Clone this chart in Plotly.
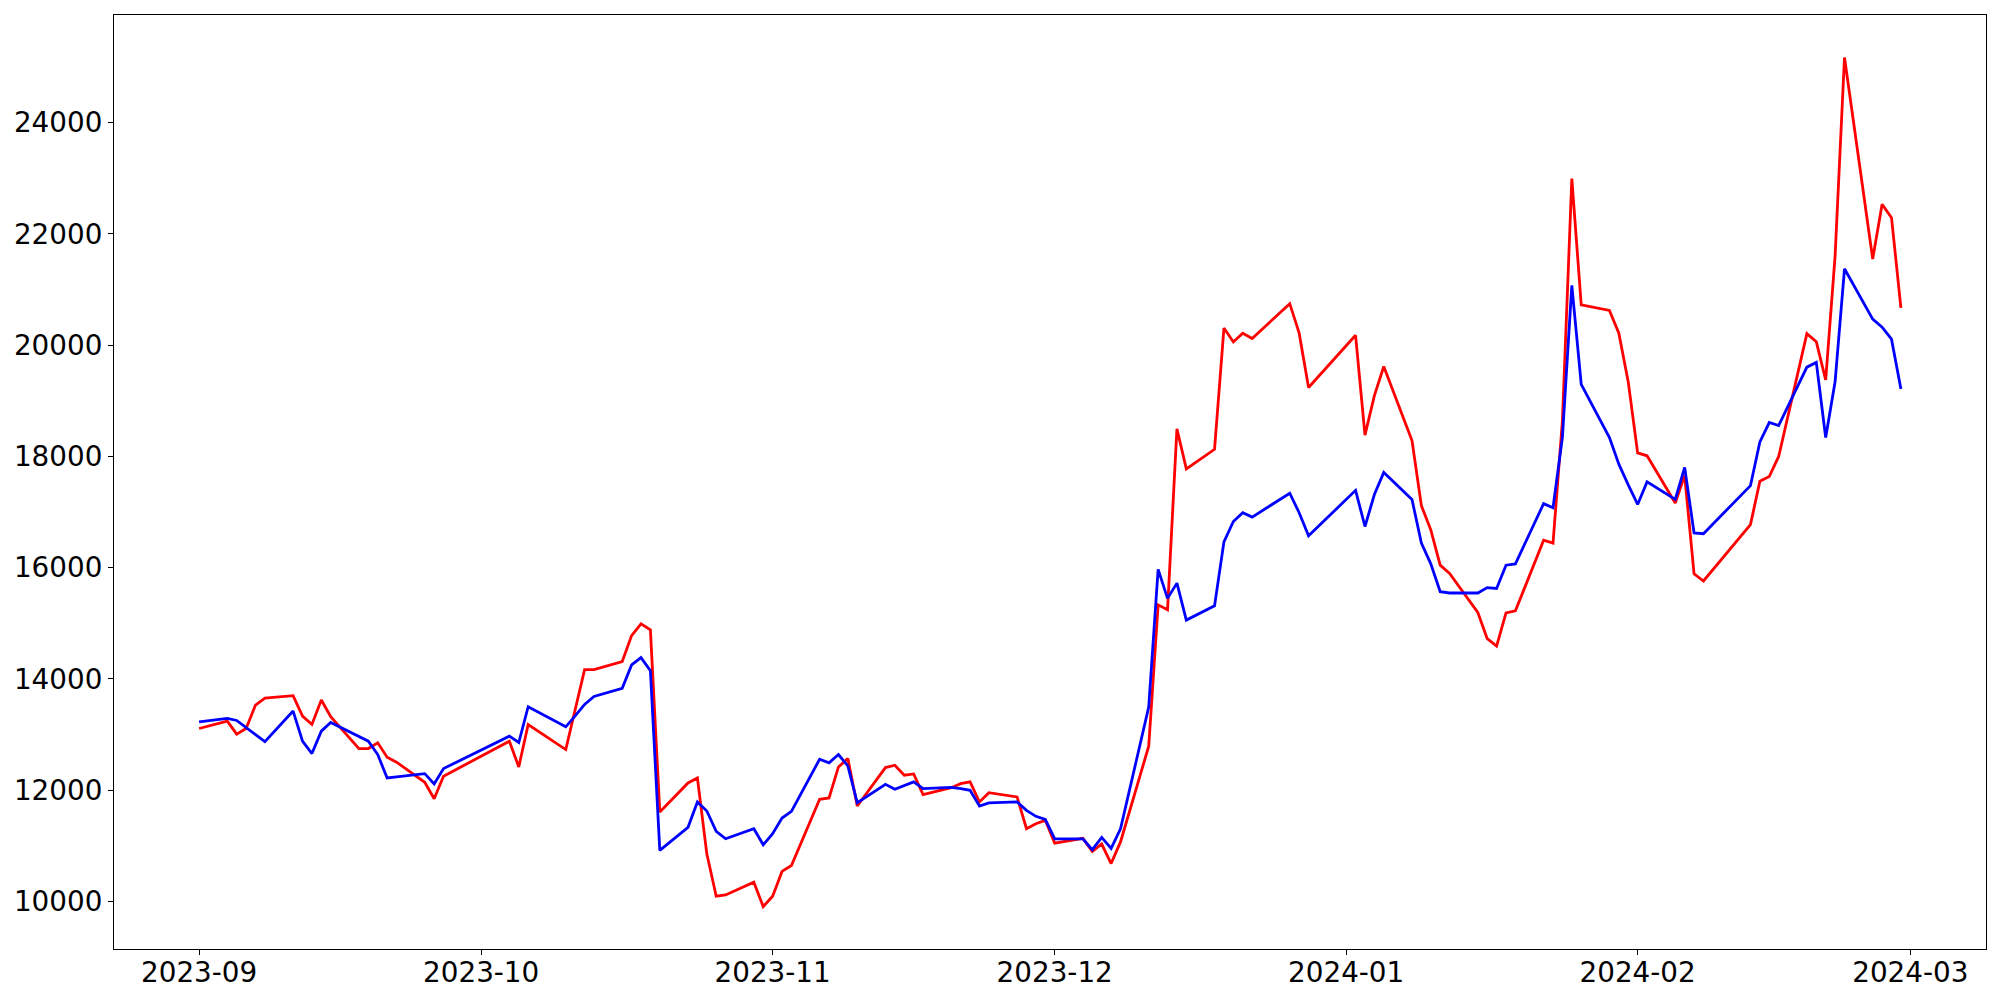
import pandas as pd
import plotly.graph_objects as go

# Trading days (Korean calendar) from 2023-09-01 to 2024-02-29
holidays = ["2023-09-28", "2023-09-29", "2023-10-02", "2023-10-03", "2023-10-09",
            "2023-12-25", "2023-12-29", "2024-01-01", "2024-02-09", "2024-02-12"]
dates = [d for d in pd.bdate_range("2023-09-01", "2024-02-29")
         if d.strftime("%Y-%m-%d") not in holidays]

red_values = [
    # Sep
    13109, 13242, 13008, 13109, 13530, 13656, 13698, 13332, 13181, 13620, 13320,
    12748, 12748, 12851, 12593, 12503, 12142, 11847, 12251,
    # Oct
    12881, 12418, 13181, 12730, 13450, 14166, 14166, 14310, 14779, 14990, 14882,
    11607, 12130, 12220, 10856, 10094, 10117, 10346, 9908,
    # Nov
    10094, 10539, 10647, 11836, 11860, 12418, 12568, 11716, 12406, 12449, 12269,
    12292, 11919, 12045, 12118, 12148, 11788, 11955, 11878, 11307, 11397, 11458,
    # Dec
    11049, 11134, 10899, 11032, 10681, 11070, 12790, 15331, 15244, 18495, 17776,
    18128, 20308, 20058, 20215, 20121, 20746, 20215, 19238,
    # Jan
    20177, 18383, 19093, 19616, 18286, 17113, 16680, 16045, 15897, 15194, 14723,
    14588, 15186, 15223, 16493, 16441, 18645, 22993, 20723, 20625, 20215, 19340,
    # Feb
    18063, 18011, 17162, 17659, 15889, 15760, 16774, 17554, 17639, 17999, 20207,
    20063, 19375, 21602, 25172, 21550, 22532, 22291, 20672,
]

blue_values = [
    # Sep
    13229, 13289, 13253, 13121, 12989, 12871, 13422, 12881, 12658, 13062, 13217,
    12971, 12881, 12640, 12220, 12238, 12298, 12112, 12388,
    # Oct
    12971, 12857, 13500, 13139, 13337, 13541, 13685, 13830, 14251, 14383, 14149,
    10917, 11332, 11788, 11625, 11260, 11127, 11307, 11018,
    # Nov
    11217, 11499, 11619, 12557, 12490, 12640, 12436, 11775, 12106, 12016, 12088,
    12148, 12028, 12052, 12028, 11998, 11716, 11770, 11788, 11638, 11530, 11476,
    # Dec
    11127, 11126, 10930, 11150, 10953, 11305, 13494, 15970, 15448, 15722, 15057,
    15314, 16464, 16830, 16987, 16909, 17338, 16987, 16572,
    # Jan
    17390, 16740, 17315, 17711, 17225, 16441, 16068, 15567, 15545, 15545, 15641,
    15626, 16045, 16068, 17151, 17077, 18346, 21074, 19295, 18340, 17861, 17488,
    # Feb
    17137, 17542, 17227, 17803, 16625, 16611, 17475, 18261, 18609, 18556, 19605,
    19690, 18340, 19342, 21373, 20469, 20324, 20108, 19213,
]

y_ticks = [10000, 12000, 14000, 16000, 18000, 20000, 22000, 24000]

fig = go.Figure()
fig.add_trace(go.Scatter(x=dates, y=red_values, mode="lines",
                         line=dict(color="red", width=2.8), showlegend=False))
fig.add_trace(go.Scatter(x=dates, y=blue_values, mode="lines",
                         line=dict(color="blue", width=2.8), showlegend=False))

# matplotlib-style 5% margins
x0, x1 = dates[0], dates[-1]
span = x1 - x0
xr = [x0 - span * 0.05, x1 + span * 0.05]
ally = red_values + blue_values
ymin, ymax = min(ally), max(ally)
yspan = ymax - ymin
yr = [ymin - 0.05 * yspan, ymax + 0.05 * yspan]

font = dict(family="DejaVu Sans", size=27.8, color="black")
fig.update_layout(
    width=1992, height=992,
    margin=dict(l=106, r=14, t=7, b=51),
    paper_bgcolor="white", plot_bgcolor="white",
    font=font,
)
fig.update_xaxes(
    range=xr, showgrid=False, zeroline=False,
    showline=True, mirror=True, linecolor="black", linewidth=1.1,
    ticks="outside", ticklen=5, tickwidth=1.1, tickcolor="black",
    tickformat="%Y-%m", dtick="M1", tick0="2023-09-01",
    tickfont=font, automargin=False, ticklabelstandoff=-6,
)
fig.update_yaxes(
    range=yr, showgrid=False, zeroline=False,
    showline=True, mirror=True, linecolor="black", linewidth=1.1,
    ticks="outside", ticklen=5, tickwidth=1.1, tickcolor="black",
    tickvals=y_ticks, ticktext=[str(v) for v in y_ticks],
    tickfont=font, automargin=False,
)

fig.write_html("out.html")
